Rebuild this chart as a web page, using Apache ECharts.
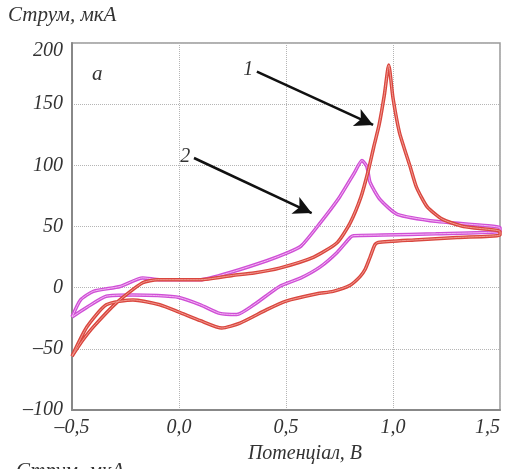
<!DOCTYPE html>
<html>
<head>
<meta charset="utf-8">
<script src="https://cdn.jsdelivr.net/npm/echarts@6/dist/echarts.min.js"></script>
<style>
  html, body { margin: 0; padding: 0; background: #fff; }
  #chart { width: 508px; height: 469px; }
</style>
</head>
<body>
<div id="chart"></div>
<script>
// крива 1 (червона), прямий хід
const redUpV = [-0.5, -0.45, -0.4, -0.29, -0.17, -0.1, 0.0, 0.1, 0.25, 0.35, 0.47, 0.63, 0.74, 0.8, 0.85, 0.885, 0.91, 0.935, 0.96, 0.98, 1.0, 1.03, 1.08, 1.11, 1.16, 1.23, 1.33, 1.5]
const redUpI = [-56, -43, -32, -12, 4, 6.5, 6.5, 6.5, 10, 12, 16, 25, 37, 53, 74, 96, 115, 133, 158, 182, 155, 127, 99, 82, 66, 56, 50, 46]
// крива 1, зворотний хід
const redDownV = [1.5, 1.3, 1.1, 0.93, 0.915, 0.893, 0.87, 0.846, 0.8, 0.72, 0.645, 0.5, 0.41, 0.285, 0.2, 0.1, 0.0, -0.09, -0.215, -0.34, -0.43, -0.5]
const redDownI = [43, 41, 39, 37, 35, 25, 15, 9, 2, -3, -5, -11, -18, -29, -33, -27, -20, -14, -10, -14, -32, -56]
// крива 2 (пурпурна), прямий хід
const magUpV = [-0.5, -0.46, -0.4, -0.275, -0.17, -0.09, 0.0, 0.1, 0.25, 0.41, 0.5, 0.57, 0.66, 0.75, 0.82, 0.855, 0.878, 0.893, 0.94, 1.02, 1.21, 1.5]
const magUpI = [-24, -10, -3, 1, 8, 6.5, 6.5, 6.5, 13, 22, 28, 34, 53, 74, 94, 104, 99, 86, 72, 60, 54, 49]
// крива 2, зворотний хід
const magDownV = [1.5, 1.2, 0.95, 0.815, 0.8, 0.74, 0.66, 0.57, 0.47, 0.35, 0.27, 0.19, 0.1, 0.0, -0.1, -0.215, -0.34, -0.43, -0.5]
const magDownI = [46, 44, 43, 42.5, 41, 29, 17, 8, 1, -14, -22, -21, -14, -8, -6.5, -6, -7, -16, -24]

const xTickLabels = ["–0,5", "0,0", "0,5", "1,0", "1,5"]
const yTickLabels = ["–100", "–50", "0", "50", "100", "150", "200"]

// стрілки: [початок, кінець] у координатах даних
const arrow1 = [[0.364, 176.6], [0.907, 133]]
const arrow2 = [[0.07, 106], [0.62, 61]]

const FONT = "Liberation Serif"
const TEXT_COLOR = "#333"

function loop (v1, i1, v2, i2) {
  const pts = v1.map((v, k) => [v, i1[k]])
  return pts.concat(v2.map((v, k) => [v, i2[k]]))
}

const redData = loop(redUpV, redUpI, redDownV, redDownI)
const magData = loop(magUpV, magUpI, magDownV, magDownI)

const arrowLine = (pts, label) => [
  { coord: pts[0], label: { formatter: label } },
  { coord: pts[1] }
]

const chart = echarts.init(document.getElementById("chart"))
chart.setOption({
  animation: false,
  grid: {
    left: 72,
    right: 8,
    top: 43,
    bottom: 59,
    show: true,
    borderColor: "#999",
    borderWidth: 1.5
  },
  xAxis: {
    type: "value",
    min: -0.5,
    max: 1.5,
    interval: 0.5,
    name: "Потенціал, В",
    nameLocation: "middle",
    nameGap: 34,
    nameTextStyle: {
      fontFamily: FONT,
      fontStyle: "italic",
      fontSize: 20,
      color: TEXT_COLOR,
      padding: [0, 0, 0, 38]
    },
    axisLine: { show: true, onZero: false, lineStyle: { color: "#888", width: 2 } },
    axisTick: { show: false },
    splitLine: { show: true, lineStyle: { color: "#b5b5b5", type: "dotted", width: 1 } },
    axisLabel: {
      margin: 8,
      alignMaxLabel: "right",
      fontFamily: FONT,
      fontStyle: "italic",
      fontSize: 20,
      color: TEXT_COLOR,
      formatter: (v, idx) => xTickLabels[idx]
    }
  },
  yAxis: {
    type: "value",
    min: -100,
    max: 200,
    interval: 50,
    axisLine: { show: true, onZero: false, lineStyle: { color: "#888", width: 2 } },
    axisTick: { show: false },
    splitLine: { show: true, lineStyle: { color: "#b5b5b5", type: "dotted", width: 1 } },
    axisLabel: {
      margin: 9,
      fontFamily: FONT,
      fontStyle: "italic",
      fontSize: 20,
      color: TEXT_COLOR,
      // верхня мітка трохи нижче лінії, як в оригіналі
      formatter: (v, idx) => idx === yTickLabels.length - 1
        ? "{top|" + yTickLabels[idx] + "}"
        : yTickLabels[idx],
      rich: {
        top: {
          fontFamily: FONT,
          fontStyle: "italic",
          fontSize: 20,
          color: TEXT_COLOR,
          padding: [16, 0, 0, 0]
        }
      }
    }
  },
  graphic: [
    {
      type: "text",
      left: 8,
      top: 5,
      style: { text: "Струм, мкА", font: "italic 21px 'Liberation Serif'", fill: TEXT_COLOR }
    },
    {
      type: "text",
      left: 92,
      top: 64,
      style: { text: "a", font: "italic 21px 'Liberation Serif'", fill: TEXT_COLOR }
    },
    {
      type: "text",
      left: 16,
      top: 461,
      style: { text: "Струм, мкА", font: "italic 21px 'Liberation Serif'", fill: TEXT_COLOR }
    }
  ],
  series: [
    {
      type: "line",
      data: magData,
      smooth: 0.2,
      showSymbol: false,
      lineStyle: { color: "#cf4fd6", width: 3.5 }
    },
    {
      type: "line",
      data: magData,
      smooth: 0.2,
      showSymbol: false,
      silent: true,
      lineStyle: { color: "#f3b6f3", width: 1 }
    },
    {
      type: "line",
      data: redData,
      smooth: 0.2,
      showSymbol: false,
      lineStyle: { color: "#d9463e", width: 3.5 }
    },
    {
      type: "line",
      data: redData,
      smooth: 0.2,
      showSymbol: false,
      silent: true,
      lineStyle: { color: "#f29b92", width: 1 },
      markLine: {
        silent: true,
        symbol: ["none", "arrow"],
        symbolSize: [14, 18],
        lineStyle: { color: "#111", width: 2.5, type: "solid" },
        label: {
          show: true,
          position: "start",
          distance: 4,
          fontFamily: FONT,
          fontStyle: "italic",
          fontSize: 20,
          color: TEXT_COLOR
        },
        data: [arrowLine(arrow1, "1"), arrowLine(arrow2, "2")]
      }
    }
  ]
})
</script>
</body>
</html>
